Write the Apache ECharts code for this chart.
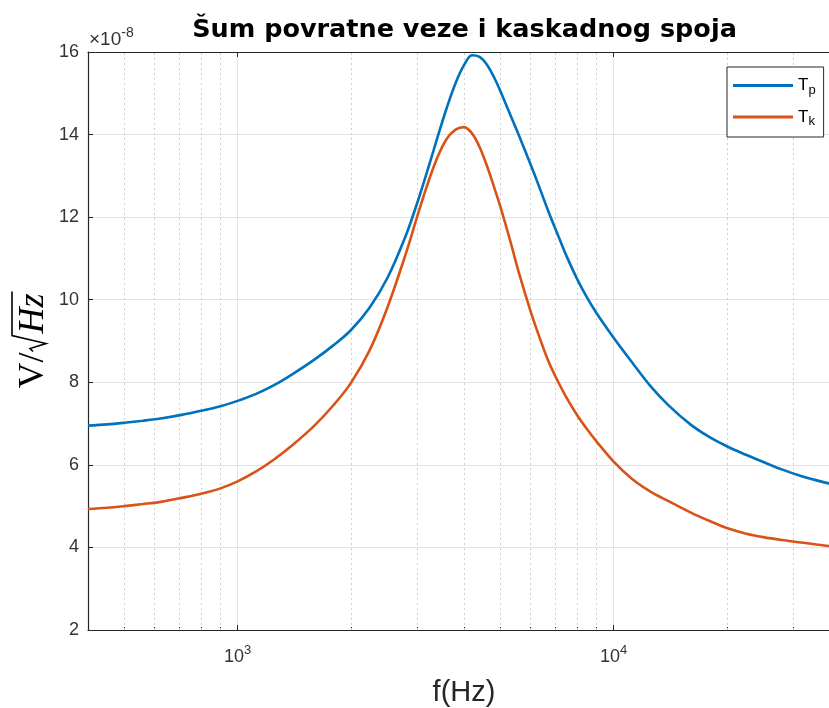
<!DOCTYPE html>
<html><head><meta charset="utf-8">
<script src="https://cdn.jsdelivr.net/npm/echarts@6/dist/echarts.min.js"></script>
<style>html,body{margin:0;padding:0;background:#fff;overflow:hidden}#c{width:840px;height:708px}</style>
</head><body><div id="c"></div>
<script>
// ---- data ----
const freqHz = [400,450,500,560,630,710,800,900,1000,1120,1250,1400,1600,1800,2000,2240,2500,2800,3000,3200,3400,3600,3800,4000,4200,4400,4600,4800,5000,5300,5600,6000,6300,6700,7100,7500,8000,8500,9000,10000,11200,12500,14000,16000,18000,20000,22400,25000,28000,31500,35500,40000];
const tpValues = [6.95,6.98,7.02,7.07,7.13,7.21,7.31,7.42,7.55,7.72,7.93,8.20,8.55,8.90,9.26,9.80,10.52,11.55,12.33,13.14,13.93,14.65,15.25,15.68,15.92,15.88,15.7,15.4,15.05,14.5,13.98,13.3,12.8,12.15,11.58,11.05,10.5,10.05,9.68,9.08,8.48,7.92,7.44,6.98,6.67,6.45,6.25,6.07,5.89,5.73,5.6,5.49];
const tkValues = [4.93,4.96,5.00,5.05,5.11,5.20,5.30,5.43,5.60,5.84,6.13,6.48,6.95,7.45,7.98,8.76,9.80,11.11,12.0,12.8,13.45,13.9,14.12,14.18,14.03,13.7,13.25,12.75,12.25,11.45,10.65,9.75,9.18,8.52,8.03,7.62,7.2,6.86,6.57,6.08,5.66,5.36,5.12,4.85,4.64,4.47,4.34,4.25,4.18,4.12,4.06,4.01];
const seriesNames = ['Tp', 'Tk'];
const majorXTicks = [1000, 10000];
const minorXTicks = [500,600,700,800,900,2000,3000,4000,5000,6000,7000,8000,9000,20000,30000];
const xRange = [400, 40000];
const yRange = [2, 16];
const yStep = 2;
const titleText = 'Šum povratne veze i kaskadnog spoja';
const xName = 'f(Hz)';
const yScaleNote = ['×10', '-8'];

// ---- styling ----
const axisColor = '#262626';
const gridColor = '#e3e3e3';
const minorColor = '#cfcfcf';
const colors = ['#0072BD', '#D95319'];
const sans = '"Liberation Sans", Arial, sans-serif';
const serifFam = '"Liberation Serif", "Times New Roman", serif';

const chart = echarts.init(document.getElementById('c'), null, {renderer: 'canvas'});

// measure y-label pieces
const mctx = document.createElement('canvas').getContext('2d');
function tw(t, f) { mctx.font = f; return mctx.measureText(t).width; }
const ySize = 36;
const wV = tw('V/', 'normal ' + ySize + 'px "Liberation Serif"');
const radW = 19;
const wHz = tw('Hz', 'italic ' + ySize + 'px "Liberation Serif"');
const totalW = wV + radW + wHz + 2;
const x0 = -totalW / 2;

const plotLeft = 88, plotTop = 52, plotBottom = 78, plotRight = 0;

function xLabel(v) {
  for (let i = 0; i < majorXTicks.length; i++) {
    if (Math.abs(v - majorXTicks[i]) < 1e-6 * majorXTicks[i]) {
      return '{b|10}{s|' + Math.round(Math.log10(majorXTicks[i])) + '}';
    }
  }
  return '';
}

const baseX = {type: 'log', logBase: 10, min: xRange[0], max: xRange[1], gridIndex: 0};

const option = {
  animation: false,
  backgroundColor: '#fff',
  title: {
    text: titleText, left: 459.5, top: 12, textAlign: 'center',
    textStyle: {fontFamily: '"DejaVu Sans", sans-serif', fontWeight: 'bold', fontSize: 25.5, color: '#000'}
  },
  grid: {left: plotLeft, top: plotTop, bottom: plotBottom, right: plotRight, containLabel: false, outerBoundsMode: 'none'},
  legend: {
    data: seriesNames, orient: 'vertical', left: 727, top: 67,
    padding: [10, 8, 9, 6], itemGap: 12, itemWidth: 60, itemHeight: 3, icon: 'rect',
    borderColor: axisColor, borderWidth: 1, backgroundColor: '#fff', selectedMode: false,
    formatter: function (n) { return '{t|' + n.charAt(0) + '}{s|' + n.slice(1) + '}'; },
    textStyle: {
      color: '#000',
      rich: {
        t: {fontFamily: sans, fontSize: 17, lineHeight: 22, verticalAlign: 'middle'},
        s: {fontFamily: sans, fontSize: 13, lineHeight: 13, verticalAlign: 'bottom'}
      }
    }
  },
  xAxis: [
    Object.assign({}, baseX, {
      position: 'bottom',
      name: xName, nameLocation: 'middle', nameGap: 48,
      nameTextStyle: {fontFamily: sans, fontSize: 29, color: axisColor},
      axisLine: {show: true, lineStyle: {color: axisColor, width: 1.2}},
      axisTick: {show: true, inside: true, length: 5, lineStyle: {color: axisColor}},
      axisLabel: {
        show: true, margin: 14, showMinLabel: false, showMaxLabel: false,
        formatter: xLabel,
        rich: {
          b: {fontFamily: sans, fontSize: 18, color: '#333', lineHeight: 22, verticalAlign: 'bottom'},
          s: {fontFamily: sans, fontSize: 13, color: '#333', lineHeight: 13, verticalAlign: 'top'}
        }
      },
      splitLine: {show: true, lineStyle: {color: gridColor, width: 1}}
    }),
    Object.assign({}, baseX, {
      position: 'top',
      axisLine: {show: true, lineStyle: {color: axisColor, width: 1.2}},
      axisTick: {show: true, inside: true, length: 5, lineStyle: {color: axisColor}},
      axisLabel: {show: false}, splitLine: {show: false}
    }),
    Object.assign({}, baseX, {
      position: 'bottom',
      axisLine: {show: false},
      axisTick: {show: true, inside: true, length: 3, customValues: minorXTicks, lineStyle: {color: axisColor}},
      axisLabel: {show: false}, splitLine: {show: false}
    }),
    Object.assign({}, baseX, {
      position: 'top',
      axisLine: {show: false},
      axisTick: {show: true, inside: true, length: 3, customValues: minorXTicks, lineStyle: {color: axisColor}},
      axisLabel: {show: false}, splitLine: {show: false}
    })
  ],
  yAxis: [{
    type: 'value', min: yRange[0], max: yRange[1], interval: yStep,
    axisLine: {show: true, lineStyle: {color: axisColor, width: 1.2}},
    axisTick: {show: true, inside: true, length: 5, lineStyle: {color: axisColor}},
    axisLabel: {fontFamily: sans, fontSize: 18, color: '#333', margin: 9},
    splitLine: {show: true, lineStyle: {color: gridColor, width: 1}}
  }],
  graphic: [
    {
      type: 'text', left: 89, top: 26, z: 10,
      style: {
        text: '{a|' + yScaleNote[0] + '}{b|' + yScaleNote[1] + '}',
        rich: {
          a: {fontFamily: sans, fontSize: 19, fill: '#333', lineHeight: 23, verticalAlign: 'bottom'},
          b: {fontFamily: sans, fontSize: 14, fill: '#333', lineHeight: 14, verticalAlign: 'top'}
        }
      }
    },
    {
      type: 'group', x: 34, y: 340, rotation: Math.PI / 2, z: 10,
      children: [
        {type: 'text', x: x0, y: 0, style: {text: 'V/', fontFamily: serifFam, fontSize: ySize, fontStyle: 'normal', fill: '#000', align: 'left', verticalAlign: 'middle'}},
        {type: 'polyline', shape: {points: [
          [x0 + wV + 1, -1], [x0 + wV + 4, -4], [x0 + wV + 9, 12], [x0 + wV + radW - 2, -22], [x0 + totalW, -22]
        ]}, style: {stroke: '#000', lineWidth: 1.6, fill: null}},
        {type: 'text', x: x0 + wV + radW, y: 0, style: {text: 'Hz', fontFamily: serifFam, fontSize: ySize, fontStyle: 'italic', fill: '#000', align: 'left', verticalAlign: 'middle'}}
      ]
    }
  ],
  series: [
    {
      name: '_minorGrid', type: 'line', data: [], z: 1, silent: true,
      markLine: {
        silent: true, symbol: ['none', 'none'], animation: false, z: 1,
        label: {show: false},
        lineStyle: {type: [2, 3], color: minorColor, width: 1},
        emphasis: {disabled: true},
        data: minorXTicks.map(function (v) { return {xAxis: v}; })
      }
    },
    {
      name: seriesNames[0], type: 'line', showSymbol: false, smooth: 0.35, z: 3,
      color: colors[0], lineStyle: {width: 2.6, color: colors[0]},
      data: freqHz.map(function (f, i) { return [f, tpValues[i]]; })
    },
    {
      name: seriesNames[1], type: 'line', showSymbol: false, smooth: 0.35, z: 3,
      color: colors[1], lineStyle: {width: 2.6, color: colors[1]},
      data: freqHz.map(function (f, i) { return [f, tkValues[i]]; })
    }
  ]
};
chart.setOption(option);
</script>
</body></html>
